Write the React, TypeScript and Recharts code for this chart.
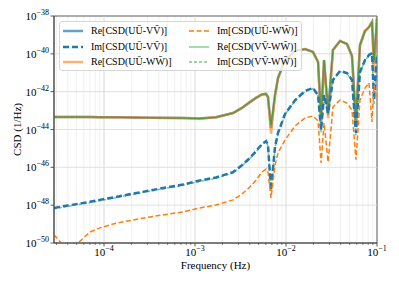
import React from 'react'
import {
  LineChart,
  Line,
  XAxis,
  YAxis,
  CartesianGrid,
  ReferenceLine,
  ReferenceArea,
} from 'recharts'

const FONT = '"Liberation Serif", "DejaVu Serif", serif'

// Frequency grid (Hz)
const freq = [
  2.82e-5, 3.45e-5, 4.02e-5, 5.18e-5, 7.0e-5, 9.0e-5, 1.39e-4, 3.2e-4, 7.38e-4, 1.13e-3,
  1.7e-3, 2.62e-3, 3.28e-3, 4.0e-3, 4.68e-3, 5.44e-3, 6.03e-3, 6.34e-3, 6.84e-3, 7.57e-3,
  8.17e-3, 9.75e-3, 1.26e-2, 1.62e-2, 1.98e-2, 2.25e-2, 2.43e-2, 2.62e-2, 2.9e-2, 3.28e-2,
  3.92e-2, 4.68e-2, 5.31e-2, 5.87e-2, 6.5e-2, 7.38e-2, 8.17e-2, 8.81e-2, 9.27e-2, 1.0e-1,
]

// Real parts (all three pairs nearly identical)
const reVW = [
  4.6e-44, 4.6e-44, 4.6e-44, 4.6e-44, 4.55e-44, 4.5e-44, 4.4e-44, 4.2e-44, 4.0e-44, 3.8e-44,
  4.4e-44, 7.4e-44, 1.38e-43, 2.8e-43, 4.7e-43, 7.1e-43, 7.6e-43, 5.2e-43, 1.7e-44, 6.6e-43,
  5.2e-42, 4.7e-41, 1.4e-40, 1.8e-40, 1.26e-40, 3.7e-41, 5.9e-44, 4.7e-41, 1.07e-43, 1.6e-40,
  4.8e-40, 3.3e-40, 7.7e-41, 4.1e-44, 2.9e-40, 1.6e-39, 2.6e-39, 4.8e-39, 4.7e-41, 7.9e-39,
]
const reUW = [
  4.6e-44, 4.6e-44, 4.6e-44, 4.6e-44, 4.55e-44, 4.5e-44, 4.4e-44, 4.2e-44, 4.0e-44, 3.8e-44,
  4.4e-44, 7.4e-44, 1.38e-43, 2.8e-43, 4.7e-43, 7.1e-43, 7.6e-43, 5.2e-43, 6.0e-45, 6.6e-43,
  5.2e-42, 4.7e-41, 1.4e-40, 1.8e-40, 1.26e-40, 3.7e-41, 2.0e-44, 4.7e-41, 4.0e-44, 1.6e-40,
  4.8e-40, 3.3e-40, 7.7e-41, 1.5e-44, 2.9e-40, 1.6e-39, 2.6e-39, 4.8e-39, 1.0e-41, 7.9e-39,
]
const reUV = [
  4.6e-44, 4.6e-44, 4.6e-44, 4.6e-44, 4.55e-44, 4.5e-44, 4.4e-44, 4.2e-44, 4.0e-44, 3.8e-44,
  4.4e-44, 7.4e-44, 1.38e-43, 2.8e-43, 4.7e-43, 7.1e-43, 7.6e-43, 5.2e-43, 1.2e-44, 6.6e-43,
  5.2e-42, 4.7e-41, 1.4e-40, 1.8e-40, 1.26e-40, 3.7e-41, 4.0e-44, 4.7e-41, 8.0e-44, 1.6e-40,
  4.8e-40, 3.3e-40, 7.7e-41, 3.0e-44, 2.9e-40, 1.6e-39, 2.6e-39, 4.8e-39, 3.0e-41, 7.9e-39,
]

// Imaginary parts
const imUV = [
  7.1e-49, 8.5e-49, 9.6e-49, 1.18e-48, 1.5e-48, 1.9e-48, 2.8e-48, 6.0e-48, 1.24e-47, 2.0e-47,
  2.9e-47, 5.6e-47, 1.3e-46, 3.1e-46, 7.2e-46, 1.7e-45, 2.45e-45, 1.5e-45, 6.3e-48, 1.2e-45,
  6.6e-45, 6.6e-44, 3.6e-43, 1.1e-42, 1.56e-42, 6.6e-43, 9.3e-45, 6.6e-43, 7.4e-44, 4.2e-42,
  1.24e-41, 9.7e-42, 4.2e-42, 6.6e-45, 1.1e-41, 4.7e-41, 8.7e-41, 1.1e-40, 3.6e-43, 8.7e-41,
]
const imVW = [
  6.4e-49, 7.7e-49, 8.7e-49, 1.07e-48, 1.36e-48, 1.72e-48, 2.55e-48, 5.5e-48, 1.13e-47, 1.82e-47,
  2.65e-47, 5.1e-47, 1.2e-46, 2.85e-46, 6.6e-46, 1.56e-45, 2.25e-45, 1.38e-45, 5.0e-48, 1.1e-45,
  6.1e-45, 6.1e-44, 3.3e-43, 1.0e-42, 1.45e-42, 6.1e-43, 7.0e-45, 6.1e-43, 5.5e-44, 3.9e-42,
  1.15e-41, 9.0e-42, 3.9e-42, 5.0e-45, 1.0e-41, 4.4e-41, 8.1e-41, 1.0e-40, 2.0e-43, 8.1e-41,
]
const imUW = [
  2.7e-50, 9.0e-51, 1.0e-52, 1.0e-50, 3.8e-50, 6.3e-50, 1.15e-49, 2.4e-49, 4.4e-49, 7.1e-49,
  1.02e-48, 1.9e-48, 3.9e-48, 9.1e-48, 2.1e-47, 5.6e-47, 8.1e-47, 5.6e-47, 2.4e-48, 1.3e-46,
  5.7e-46, 2.8e-45, 1.55e-44, 4.1e-44, 5.2e-44, 2.8e-44, 1.7e-46, 2.2e-44, 1.9e-46, 1.55e-43,
  3.6e-43, 2.5e-43, 1.07e-43, 2.5e-46, 3.6e-43, 1.56e-42, 2.9e-42, 2.5e-44, 2.2e-42, 3.6e-43,
]

const xMajor = [1e-4, 1e-3, 1e-2, 1e-1]
const xMinor = [
  3e-5, 4e-5, 5e-5, 6e-5, 7e-5, 8e-5, 9e-5,
  2e-4, 3e-4, 4e-4, 5e-4, 6e-4, 7e-4, 8e-4, 9e-4,
  2e-3, 3e-3, 4e-3, 5e-3, 6e-3, 7e-3, 8e-3, 9e-3,
  2e-2, 3e-2, 4e-2, 5e-2, 6e-2, 7e-2, 8e-2, 9e-2,
]
const yTicks = [1e-50, 1e-48, 1e-46, 1e-44, 1e-42, 1e-40, 1e-38]

const data = freq.map((f, i) => ({
  f,
  reUV: reUV[i],
  imUV: imUV[i],
  reUW: reUW[i],
  imUW: imUW[i],
  reVW: reVW[i],
  imVW: imVW[i],
}))

const series = [
  { key: 'reUV', name: 'Re[CSD(UU\u0304-VV\u0304)]', color: '#1f77b4', width: 2.5, dash: undefined, opacity: 0.7 },
  { key: 'imUV', name: 'Im[CSD(UU\u0304-VV\u0304)]', color: '#1f77b4', width: 2.5, dash: '6 3', opacity: 1 },
  { key: 'reUW', name: 'Re[CSD(UU\u0304-WW\u0304)]', color: '#ff7f0e', width: 2.5, dash: undefined, opacity: 0.6 },
  { key: 'imUW', name: 'Im[CSD(UU\u0304-WW\u0304)]', color: '#ff7f0e', width: 1.5, dash: '5 2.5', opacity: 1 },
  { key: 'reVW', name: 'Re[CSD(VV\u0304-WW\u0304)]', color: '#2ca02c', width: 1, dash: undefined, opacity: 0.8 },
  { key: 'imVW', name: 'Im[CSD(VV\u0304-WW\u0304)]', color: '#2ca02c', width: 1.5, dash: '3 2', opacity: 0.6 },
]

const drawOrder = ['reUV', 'reUW', 'reVW', 'imVW', 'imUV', 'imUW']

const Pow = ({ x, y, exp, anchor }: any) => (
  <text x={x} y={y} textAnchor={anchor} style={{ fontFamily: FONT }} fill="#000">
    <tspan fontSize={11}>10</tspan>
    <tspan fontSize={8} dy={-5}>{'\u2212' + Math.abs(exp)}</tspan>
  </text>
)

const YTick = ({ x, y, payload }: any) => {
  const e = Math.round(Math.log10(payload.value))
  return <Pow x={x} y={y + 4} exp={e} anchor="end" />
}

const XTick = ({ x, y, payload }: any) => {
  const lg = Math.log10(payload.value)
  const major = Math.abs(lg - Math.round(lg)) < 1e-6
  return (
    <g>
      <line x1={x} x2={x} y1={y} y2={y + (major ? 3.5 : 2)} stroke="#333" strokeWidth={major ? 0.8 : 0.6} />
      {major && <Pow x={x} y={y + 13} exp={Math.round(lg)} anchor="middle" />}
    </g>
  )
}

const YLabel = ({ viewBox }: any) => {
  const cx = viewBox.x + 17
  const cy = viewBox.y + viewBox.height / 2
  return (
    <text x={cx} y={cy} transform={`rotate(-90 ${cx} ${cy})`} textAnchor="middle" dominantBaseline="central" style={{ fontFamily: FONT, fontSize: 11 }} fill="#000">
      CSD (1/Hz)
    </text>
  )
}

const XLabel = ({ viewBox }: any) => (
  <text x={viewBox.x + viewBox.width / 2} y={viewBox.y + 26} textAnchor="middle" style={{ fontFamily: FONT, fontSize: 11 }} fill="#000">
    Frequency (Hz)
  </text>
)

function LegendBox() {
  const col1 = series.slice(0, 3)
  const col2 = series.slice(3)
  const rows = [9, 24.5, 40]
  const item = (s: any, i: number, left: number) => (
    <div key={s.key} style={{ position: 'absolute', left, top: rows[i] - 7, height: 14, display: 'flex', alignItems: 'center', whiteSpace: 'nowrap' }}>
      <svg width={20} height={6} style={{ display: 'block' }}>
        <line x1={0} x2={20} y1={3} y2={3} stroke={s.color} strokeOpacity={s.opacity} strokeWidth={s.width} strokeDasharray={s.dash} />
      </svg>
      <span style={{ marginLeft: 8, fontSize: 10, lineHeight: '14px' }}>{s.name}</span>
    </div>
  )
  return (
    <div
      style={{
        position: 'absolute',
        left: 59,
        top: 21,
        width: 241,
        height: 48,
        border: '1px solid #d6d6d6',
        borderRadius: 3,
        background: 'rgba(255,255,255,0.8)',
        fontFamily: FONT,
        color: '#000',
      }}
    >
      {col1.map((s, i) => item(s, i, 3))}
      {col2.map((s, i) => item(s, i, 129))}
    </div>
  )
}

export default function App() {
  const xDomain = [freq[0], 0.1]
  return (
    <div style={{ position: 'absolute', left: 0, top: 0, width: 399, height: 284, background: '#fff', fontFamily: FONT }}>
      <LineChart width={399} height={284} data={data} margin={{ top: 16, right: 22, bottom: 0, left: 0 }}>
        <CartesianGrid horizontal={false} stroke="#eeeeee" strokeWidth={0.8} />
        <XAxis
          dataKey="f"
          type="number"
          scale="log"
          domain={xDomain}
          allowDataOverflow
          ticks={[...xMinor, ...xMajor]}
          interval={0}
          height={41}
          tickLine={false}
          tickSize={0}
          tickMargin={0}
          axisLine={{ stroke: '#333', strokeWidth: 0.8 }}
          tick={<XTick />}
          label={<XLabel />}
        />
        <YAxis
          type="number"
          scale="log"
          domain={[1e-50, 1e-38]}
          allowDataOverflow
          ticks={yTicks}
          interval={0}
          width={54}
          tickSize={3.5}
          tickMargin={1.5}
          tickLine={{ stroke: '#333', strokeWidth: 0.8 }}
          axisLine={{ stroke: '#333', strokeWidth: 0.8 }}
          tick={<YTick />}
          label={<YLabel />}
        />
        {xMajor.slice(0, 3).map((v) => (
          <ReferenceLine key={'vx' + v} x={v} stroke="#d9d9d9" strokeWidth={0.8} />
        ))}
        {yTicks.slice(1, -1).map((v) => (
          <ReferenceLine key={'hy' + v} y={v} stroke="#d9d9d9" strokeWidth={0.8} />
        ))}
        {drawOrder.map((k) => {
          const s = series.find((q) => q.key === k)!
          return (
            <Line
              key={s.key}
              dataKey={s.key}
              type="linear"
              stroke={s.color}
              strokeOpacity={s.opacity}
              strokeWidth={s.width}
              strokeDasharray={s.dash}
              dot={false}
              activeDot={false}
              isAnimationActive={false}
            />
          )
        })}
        <ReferenceArea x1={xDomain[0]} x2={xDomain[1]} y1={1e-50} y2={1e-38} fill="none" stroke="#333" strokeWidth={0.8} ifOverflow="visible" />
      </LineChart>
      <LegendBox />
    </div>
  )
}
